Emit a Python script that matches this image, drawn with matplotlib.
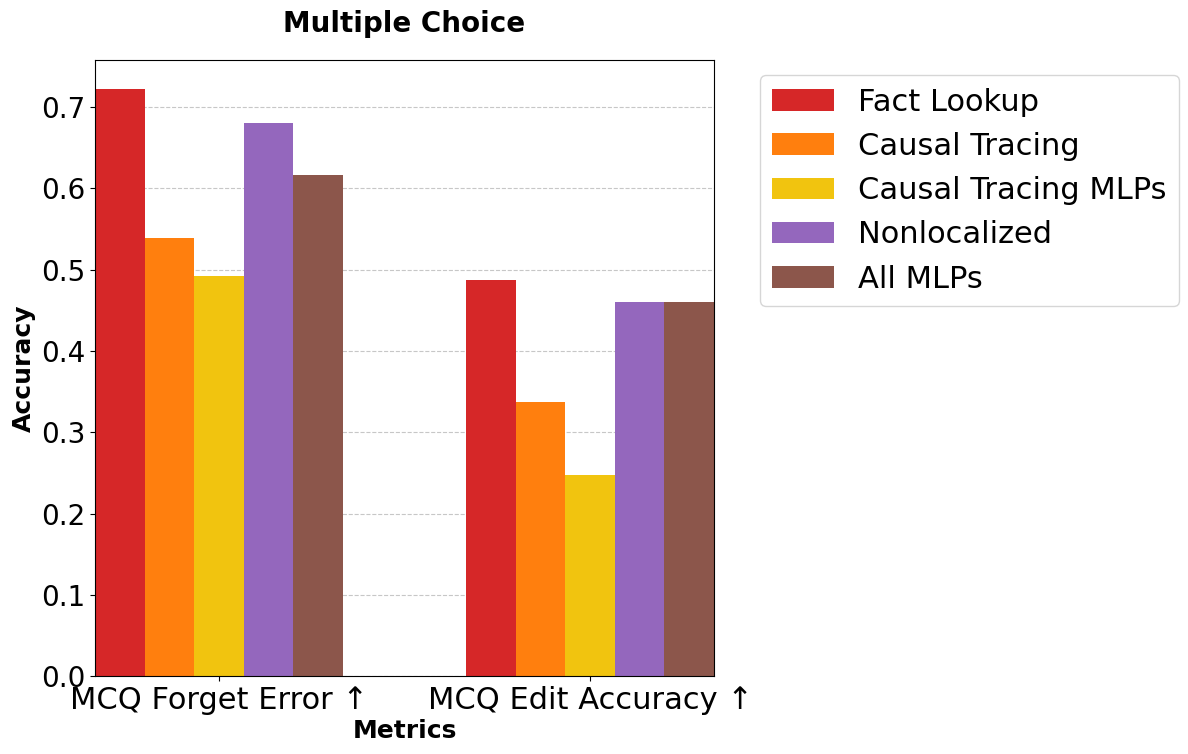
import matplotlib
matplotlib.use("Agg")
import matplotlib.pyplot as plt
import numpy as np

metrics = ["MCQ Forget Error ↑", "MCQ Edit Accuracy ↑"]
methods = ["Fact Lookup", "Causal Tracing", "Causal Tracing MLPs", "Nonlocalized", "All MLPs"]
colors = ["#d62728", "#ff7f0e", "#f1c40f", "#9467bd", "#8c564b"]
scores = {
    "Fact Lookup": [0.722, 0.487],
    "Causal Tracing": [0.539, 0.337],
    "Causal Tracing MLPs": [0.492, 0.248],
    "Nonlocalized": [0.681, 0.460],
    "All MLPs": [0.616, 0.460],
}

fig = plt.figure(figsize=(11.88, 7.54), dpi=100)
ax = fig.add_axes([0.0800, 0.1034, 0.5210, 0.8170])

x = np.arange(len(metrics))
width = 0.8 / 6
for i, (name, color) in enumerate(zip(methods, colors)):
    ax.bar(x + i * width, scores[name], width, label=name, color=color)

ax.set_xticks(x + 2 * width)
ax.set_xticklabels(metrics, fontsize=22)
ax.tick_params(axis="y", labelsize=20)
ax.margins(x=0)
ax.set_xlabel("Metrics", fontsize=18, fontweight="bold", labelpad=3)
ax.set_ylabel("Accuracy", fontsize=18, fontweight="bold")
ax.set_title("Multiple Choice", fontsize=20, fontweight="bold", pad=20)
ax.set_axisbelow(True)
ax.yaxis.grid(True, linestyle="--", alpha=0.7)
ax.legend(bbox_to_anchor=(1.05, 1), loc="upper left", fontsize=22)

fig.savefig("out.png", dpi=100)
